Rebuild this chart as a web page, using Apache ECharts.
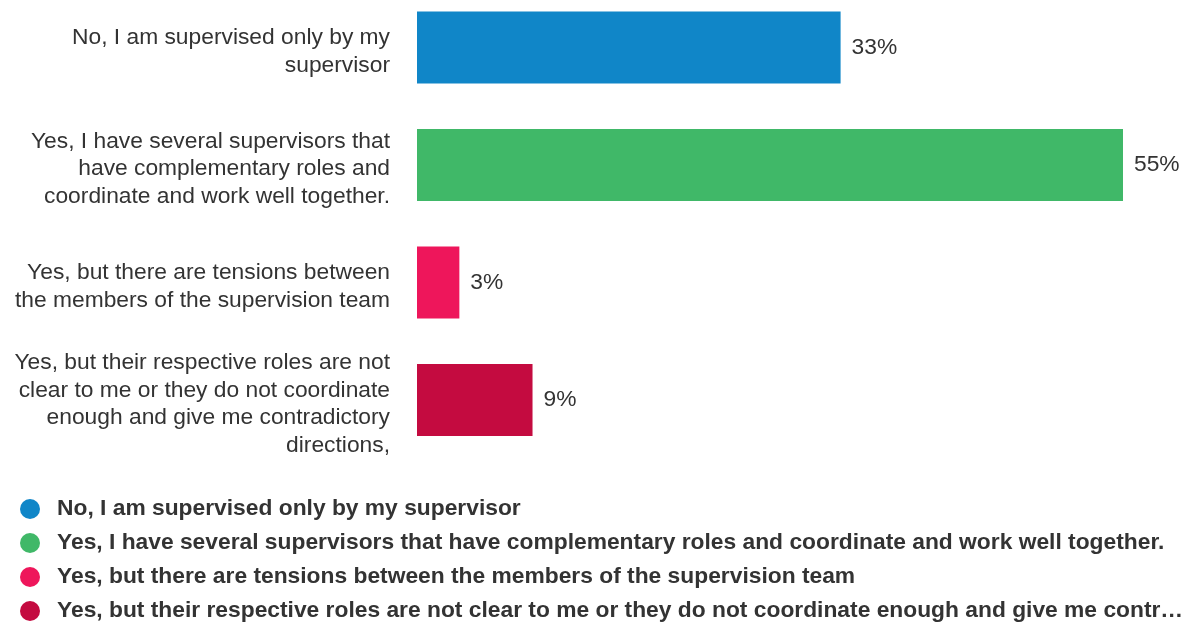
<!DOCTYPE html>
<html>
<head>
<meta charset="utf-8">
<script src="https://cdn.jsdelivr.net/npm/echarts@6/dist/echarts.min.js"></script>
<style>
  html, body { margin: 0; padding: 0; background: #fff; }
  #chart { width: 1183px; height: 622px; }
</style>
</head>
<body>
<div id="chart"></div>
<script>
// answers (legend / series names)
const categories = [
  'No, I am supervised only by my supervisor',
  'Yes, I have several supervisors that have complementary roles and coordinate and work well together.',
  'Yes, but there are tensions between the members of the supervision team',
  'Yes, but their respective roles are not clear to me or they do not coordinate enough and give me contradictory directions,'
]
// wrapped axis labels as shown left of the bars
const axisLabels = [
  'No, I am supervised only by my\nsupervisor',
  'Yes, I have several supervisors that\nhave complementary roles and\ncoordinate and work well together.',
  'Yes, but there are tensions between\nthe members of the supervision team',
  'Yes, but their respective roles are not\nclear to me or they do not coordinate\nenough and give me contradictory\ndirections,'
]
const percentValues = [33, 55, 3.3, 9]
const colorList = ['#1086c8', '#40b868', '#ee165b', '#c40b40']

const chart = echarts.init(document.getElementById('chart'))
const textColor = '#333'
const fontFamily = '"Liberation Sans", Arial, sans-serif'
const fontSize = 22.8

const series = categories.map((name, i) => ({
  name: name,
  type: 'bar',
  stack: 'all',
  barWidth: 72,
  itemStyle: { color: colorList[i] },
  label: {
    show: true,
    position: 'right',
    distance: 11,
    color: textColor,
    fontFamily: fontFamily,
    fontSize: fontSize,
    formatter: (p) => Math.round(p.value) + '%',
  },
  data: categories.map((c, j) => (j === i ? percentValues[i] : '-')),
}))

const options = {
  backgroundColor: '#fff',
  animation: false,
  grid: {
    left: 417,
    right: 60,
    top: 47.5,
    height: 352.5,
    containLabel: false,
  },
  xAxis: {
    type: 'value',
    min: 0,
    max: 55,
    show: false,
  },
  yAxis: {
    type: 'category',
    inverse: true,
    boundaryGap: false,
    data: categories,
    axisLine: { show: false },
    axisTick: { show: false },
    splitLine: { show: false },
    axisLabel: {
      margin: 27,
      color: textColor,
      fontFamily: fontFamily,
      fontSize: fontSize,
      align: 'right',
      // small empty first line pushes the block a few px down, like the original
      formatter: (v, idx) =>
        '{s| }\n' + axisLabels[idx].split('\n').map((l) => '{a|' + l + '}').join('\n'),
      rich: {
        s: { fontSize: 1, lineHeight: 8 },
        a: {
          fontFamily: fontFamily,
          fontSize: fontSize,
          lineHeight: 27.5,
          color: textColor,
          align: 'right',
        },
      },
    },
  },
  legend: {
    orient: 'vertical',
    left: 20,
    top: 497.5,
    height: 150,
    padding: 0,
    icon: 'circle',
    itemWidth: 20,
    itemHeight: 20,
    itemGap: 11,
    data: categories,
    textStyle: {
      color: textColor,
      fontFamily: fontFamily,
      fontSize: fontSize,
      fontWeight: 'bold',
      padding: [0, 0, 0, 12],
      width: 1133,
      overflow: 'truncate',
      ellipsis: '…',
    },
  },
  series: series,
}

chart.setOption(options)
</script>
</body>
</html>
